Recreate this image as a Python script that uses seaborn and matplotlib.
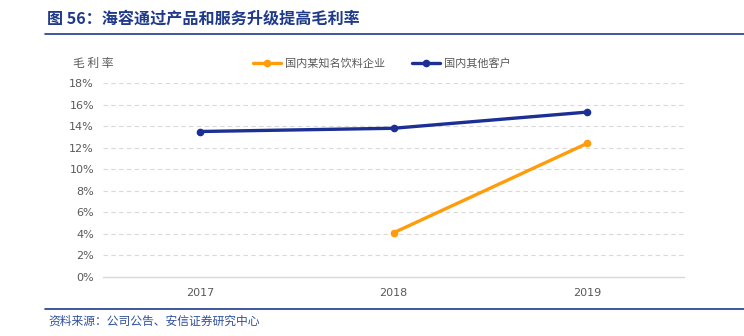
import numpy as np
import pandas as pd
import matplotlib
matplotlib.use("Agg")
import matplotlib.pyplot as plt
from matplotlib.lines import Line2D
import seaborn as sns

years = ["2017", "2018", "2019"]
beverage = [np.nan, 4.1, 12.4]     # 国内某知名饮料企业 (%)
others = [13.5, 13.8, 15.3]        # 国内其他客户 (%)
series_names = ["国内某知名饮料企业", "国内其他客户"]
colors = ["#FF9C0A", "#1B2F95"]
yticks = [0, 2, 4, 6, 8, 10, 12, 14, 16, 18]

sns.set_theme(style="white")
plt.rcParams["font.family"] = ["Noto Sans CJK SC", "DejaVu Sans"]

rows = []
for name, vals in zip(series_names, [beverage, others]):
    for i, (y, v) in enumerate(zip(years, vals)):
        if not np.isnan(v):
            rows.append({"pos": i, "year": y, "series": name, "value": v})
df = pd.DataFrame(rows)

fig = plt.figure(figsize=(7.44, 3.36), dpi=100)
ax = fig.add_axes([103/744, 1-277/336, (684-103)/744, (277-83)/336])

sns.lineplot(data=df, x="pos", y="value", hue="series", palette=colors,
             hue_order=series_names, marker="o", markersize=5.5,
             markeredgewidth=0, linewidth=2.4, ax=ax, legend=False)

ax.set_xlim(-0.5, 2.5)
ax.set_ylim(0, 18)
ax.set_xticks(range(len(years)))
ax.set_xticklabels(years)
ax.set_yticks(yticks)
ax.set_yticklabels([f"{t}%" for t in yticks])
ax.set_xlabel("")
ax.set_ylabel("")
ax.tick_params(axis="both", colors="#595959", labelsize=8, length=0)
ax.tick_params(axis="x", pad=8)
ax.tick_params(axis="y", pad=6.5)
for t in ax.get_xticklabels() + ax.get_yticklabels():
    t.set_family(["DejaVu Sans"])
for s in ["top", "right", "left"]:
    ax.spines[s].set_visible(False)
ax.spines["bottom"].set_color("#d9d9d9")
ax.spines["bottom"].set_linewidth(1.0)
for t in yticks[1:]:
    ax.axhline(t, color="#d9d9d9", linestyle=(0, (4, 3)), linewidth=0.8, zorder=0)

# y-axis label
fig.text(73/744, 1-63/336, "毛 利 率", fontsize=8.5, color="#595959", va="center", ha="left")

# legend
handles = [Line2D([0], [0], color=c, lw=2.4, marker="o", markersize=5.5, markeredgewidth=0)
           for c in colors]
leg = fig.legend(handles, series_names, loc="center left",
                 bbox_to_anchor=(253/744, 1-63/336), ncol=2, frameon=False,
                 fontsize=8, handlelength=2.5, handletextpad=0.4, columnspacing=2.4,
                 borderaxespad=0, borderpad=0)
for t in leg.get_texts():
    t.set_color("#595959")

# title
fig.text(47/744, 1-19/336, "图 56：海容通过产品和服务升级提高毛利率", fontsize=11.6,
         fontweight="bold", color="#1F3A8A", va="center", ha="left")
fig.add_artist(Line2D([45/744, 1.0], [1-34/336, 1-34/336], color="#1F3A8A", lw=1.2,
                      transform=fig.transFigure))
# footer
fig.add_artist(Line2D([45/744, 1.0], [1-309/336, 1-309/336], color="#1F3A8A", lw=1.2,
                      transform=fig.transFigure))
fig.text(48/744, 1-321/336, "资料来源：公司公告、安信证券研究中心", fontsize=8.5,
         color="#2F4F9F", va="center", ha="left", style="italic")

fig.savefig("out.png", dpi=100, facecolor="white")
